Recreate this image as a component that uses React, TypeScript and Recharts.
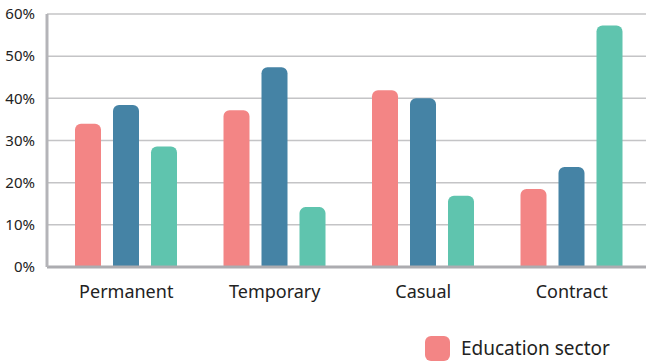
import { BarChart, Bar, XAxis, YAxis, CartesianGrid, Legend } from 'recharts'

const categories = ['Permanent', 'Temporary', 'Casual', 'Contract']
const educationSector = [34, 37.2, 41.9, 18.5]
const secondSeries = [38.4, 47.4, 40, 23.7]
const thirdSeries = [28.6, 14.2, 16.9, 57.3]
const yTicks = [0, 10, 20, 30, 40, 50, 60]

const data = categories.map((category, i) => ({
  category,
  education: educationSector[i],
  second: secondSeries[i],
  third: thirdSeries[i],
}))

const font = '"Noto Sans", "Open Sans", sans-serif'

function LegendContent() {
  // only the first legend entry fits inside the frame
  return (
    <div style={{ paddingLeft: 425, paddingTop: 14, display: 'flex', alignItems: 'center', fontFamily: font }}>
      <span
        style={{
          display: 'inline-block',
          width: 25,
          height: 25,
          borderRadius: 6,
          background: '#f38585',
          marginRight: 11,
        }}
      />
      <span style={{ fontSize: 19, color: '#222' }}>Education sector</span>
    </div>
  )
}

export default function App() {
  return (
    <div style={{ position: 'absolute', left: 0, top: 0, background: '#fff' }}>
      <BarChart
        width={646}
        height={361}
        data={data}
        margin={{ top: 14, right: 0, bottom: 0, left: 0 }}
        barSize={26}
        barGap={12}
      >
        <CartesianGrid vertical={false} stroke="#c4c4c6" strokeWidth={1.5} />
        <XAxis
          dataKey="category"
          height={54}
          padding={{ left: 5, right: 0 }}
          tickLine={false}
          axisLine={{ stroke: '#acacb0', strokeWidth: 3 }}
          tickMargin={12}
          tick={{ fontSize: 18, fill: '#222', fontFamily: font }}
        />
        <YAxis
          width={47}
          domain={[0, 60]}
          ticks={yTicks}
          tickFormatter={(v) => `${v}%`}
          tickLine={false}
          axisLine={{ stroke: '#b4b4b8', strokeWidth: 3 }}
          tickMargin={6}
          tick={{ fontSize: 15, fill: '#222', fontFamily: font }}
        />
        <Legend verticalAlign="bottom" align="left" height={40} content={<LegendContent />} />
        <Bar dataKey="education" name="Education sector" fill="#f38585" radius={[6, 6, 0, 0]} isAnimationActive={false} />
        <Bar dataKey="second" fill="#4583a5" radius={[6, 6, 0, 0]} isAnimationActive={false} />
        <Bar dataKey="third" fill="#5fc4ae" radius={[6, 6, 0, 0]} isAnimationActive={false} />
      </BarChart>
    </div>
  )
}
